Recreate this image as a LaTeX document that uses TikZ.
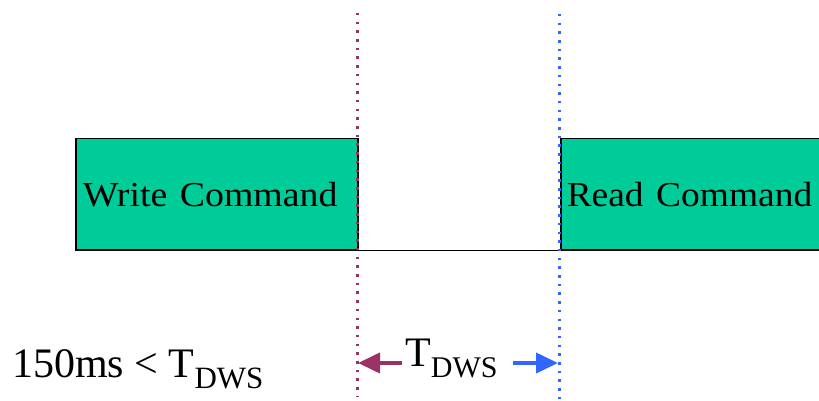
\documentclass[tikz,border=0pt]{standalone}
\usepackage{fontspec}
\setmainfont{Liberation Serif}
\usetikzlibrary{arrows.meta}
\definecolor{cmdgreen}{HTML}{00CC99}
\definecolor{tpurple}{HTML}{993366}
\definecolor{tblue}{HTML}{3366FF}
\newcommand{\dws}[1]{\raisebox{-11pt}{\fontsize{#1}{#1}\selectfont DWS}}
\begin{document}
\begin{tikzpicture}[x=1pt,y=-1pt,
  cmdbox/.style={draw=black,line width=1.5pt,fill=cmdgreen,anchor=north west,inner sep=0pt,
    align=left,font=\fontsize{35}{37}\selectfont},
  vline/.style={line width=3pt,dash pattern=on 2.5pt off 6.2pt},
  lbl/.style={font=\fontsize{42}{44}\selectfont,inner sep=0pt,anchor=base west},
  tarrow/.style={line width=4pt,-{Triangle[length=22pt,width=20pt]}}]
\useasboundingbox (0,0) rectangle (819,401);
\node[cmdbox,minimum width=282pt,minimum height=111pt,text width=278pt] (write) at (75,138) {\hspace*{5pt}\scalebox{1.08}[1]{Write Command}};
\node[cmdbox,minimum width=270pt,minimum height=111pt,text width=266pt] (read) at (560,138) {\hspace*{4pt}\scalebox{1.07}[1]{Read Command}};
\draw[line width=1.5pt] (write.south east) -- (read.south west);
\coordinate (p1) at (357,13);
\coordinate (p2) at (357,397);
\coordinate (b1) at (559,14);
\coordinate (b2) at (559,401);
\draw[vline,tpurple] (p1) -- (p2);
\draw[vline,tblue] (b1) -- (b2);
\node[lbl] (cond) at (12,377) {150ms < T\dws{31}};
\node[lbl] (tdws) at (405,366) {T\dws{30}};
\coordinate (pa) at (402,363);
\coordinate (pe) at (358,363);
\coordinate (ba) at (513,363);
\coordinate (be) at (558,363);
\draw[tarrow,tpurple] (pa) -- (pe);
\draw[tarrow,tblue] (ba) -- (be);
\end{tikzpicture}
\end{document}
